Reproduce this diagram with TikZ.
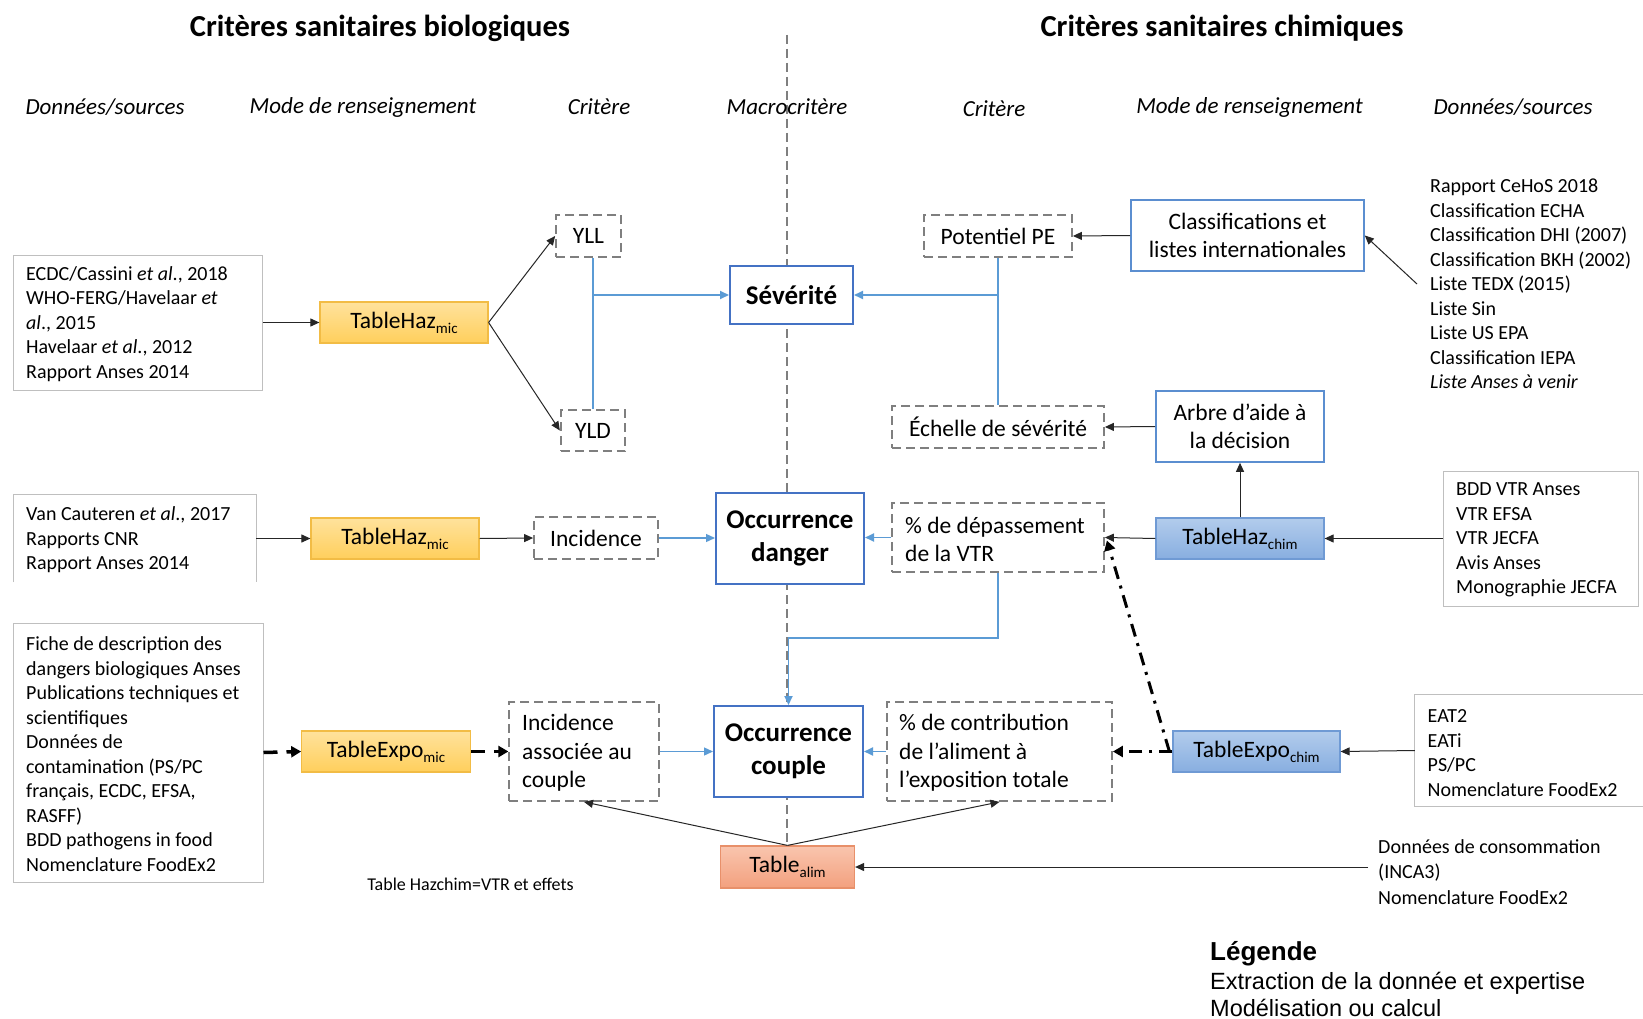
\documentclass[tikz,border=0pt]{standalone}
\usepackage{fontspec}
\setmainfont{Carlito}
\newfontfamily\arialf{Liberation Sans}
\usetikzlibrary{arrows.meta,calc}
\definecolor{bblue}{HTML}{4472C4}
\definecolor{wblue}{HTML}{5B8ED0}
\definecolor{lblue}{HTML}{5B9BD5}
\definecolor{dgray}{HTML}{7F7F7F}
\definecolor{sgray}{HTML}{BFBFBF}
\definecolor{orT}{HTML}{FFE29C}
\definecolor{orB}{HTML}{FFCF5C}
\definecolor{orD}{HTML}{F2BC45}
\definecolor{blT}{HTML}{B2CCEC}
\definecolor{blB}{HTML}{88AEE0}
\definecolor{blD}{HTML}{6F9AD4}
\definecolor{saT}{HTML}{F9C5AE}
\definecolor{saB}{HTML}{F3A07E}
\definecolor{saD}{HTML}{E8906A}
\newcommand\fBody{\fontsize{20}{24.5}\selectfont}
\newcommand\fBx{\fontsize{23.5}{28.5}\selectfont}
\newcommand\fBold{\bfseries\fontsize{27}{33}\selectfont}
\newcommand\fTab{\fontsize{23.5}{28}\selectfont}
\newcommand\fHead{\bfseries\fontsize{30.5}{36}\selectfont}
\newcommand\fCol{\itshape\fontsize{23}{28}\selectfont}
\newcommand\fNote{\fontsize{18}{21}\selectfont}
\newcommand\fLegT{\arialf\bfseries\fontsize{26}{30}\selectfont}
\newcommand\fLeg{\arialf\fontsize{23.5}{26}\selectfont}
\newcommand\mysub[1]{\raisebox{-5pt}{\fontsize{15}{15}\selectfont #1}}
\tikzset{
  txt/.style={inner sep=0pt, align=left, font=\fBody},
  srcbox/.style={draw=sgray, line width=1pt, fill=white, inner sep=0pt},
  dbox/.style={draw=dgray, line width=1.8pt, dash pattern=on 9pt off 5pt, fill=white, inner sep=0pt, font=\fBx},
  bbox/.style={draw=bblue, line width=2pt, fill=white, inner sep=0pt, font=\fBold, align=center},
  wbox/.style={draw=wblue, line width=1.6pt, fill=white, inner sep=0pt, font=\fBx, align=center},
  orng/.style={top color=orT, bottom color=orB, draw=orD, line width=1.2pt, inner sep=0pt, font=\fTab},
  bluf/.style={top color=blT, bottom color=blB, draw=blD, line width=1.2pt, inner sep=0pt, font=\fTab},
  salm/.style={top color=saT, bottom color=saB, draw=saD, line width=1.2pt, inner sep=0pt, font=\fTab},
  arr/.style={-{Triangle[length=9pt,width=8pt]}, line width=1pt, black!85},
  barr/.style={-{Triangle[length=9pt,width=8pt]}, line width=1.8pt, lblue},
  blin/.style={line width=1.8pt, lblue},
  thickdash/.style={line width=3.5pt, dash pattern=on 14pt off 9pt, -{Triangle[length=10pt,width=11pt]}},
  dashdotted/.style={line width=3pt, dash pattern=on 13pt off 7pt on 3pt off 7pt, -{Triangle[length=10pt,width=11pt]}},
  cline/.style={line width=2.2pt, dgray, dash pattern=on 9pt off 5pt}
}
\begin{document}
\begin{tikzpicture}[x=1pt,y=-1pt]
\useasboundingbox[fill=white] (0,0) rectangle (1643,1019);

% central dashed line
\coordinate (ctop) at (787,35);
\coordinate (cbot) at (787,846);
\draw[cline] (ctop) -- (cbot);

% headers
\node[inner sep=0pt, font=\fHead] (hbio) at (380,28) {Critères sanitaires biologiques};
\node[inner sep=0pt, font=\fHead] (hchi) at (1222,28) {Critères sanitaires chimiques};
\node[inner sep=0pt, font=\fCol] (c1) at (105,107) {Données/sources};
\node[inner sep=0pt, font=\fCol] (c2) at (363,107) {Mode de renseignement};
\node[inner sep=0pt, font=\fCol] (c3) at (599,107) {Critère};
\node[inner sep=0pt, font=\fCol] (c4) at (787,107) {Macrocritère};
\node[inner sep=0pt, font=\fCol] (c5) at (994,109) {Critère};
\node[inner sep=0pt, font=\fCol] (c6) at (1249.5,107) {Mode de renseignement};
\node[inner sep=0pt, font=\fCol] (c7) at (1513,107) {Données/sources};

% ---- row 1 (severity)
\node[srcbox, minimum width=249pt, minimum height=135pt] (s1) at (137.5,322.5) {};
\node[txt, anchor=west] (s1t) at (26,324) {ECDC/Cassini \textit{et al}., 2018\\WHO-FERG/Havelaar \textit{et}\\\textit{al}., 2015\\Havelaar \textit{et al}., 2012\\Rapport Anses 2014};
\node[orng, minimum width=168pt, minimum height=41pt] (h1) at (404,322.5) {TableHaz\mysub{mic}};
\node[dbox, minimum width=65pt, minimum height=42pt] (yll) at (588.5,236) {YLL};
\node[dbox, minimum width=64.5pt, minimum height=41pt] (yld) at (593,430.5) {YLD};
\node[bbox, minimum width=123pt, minimum height=58pt] (sev) at (791.5,295) {Sévérité};
\node[dbox, minimum width=148pt, minimum height=42pt] (pe) at (998,236) {Potentiel PE};
\node[wbox, minimum width=233pt, minimum height=71pt] (cl) at (1247.5,235.5) {Classifications et\\listes internationales};
\node[txt, anchor=west] (ce) at (1430,284) {Rapport CeHoS 2018\\Classification ECHA\\Classification DHI (2007)\\Classification BKH (2002)\\Liste TEDX (2015)\\Liste Sin\\Liste US EPA\\Classification IEPA\\\textit{Liste Anses à venir}};
\coordinate (cefrom) at (1417,284);
\node[dbox, minimum width=212pt, minimum height=42pt] (ech) at (998,427) {Échelle de sévérité};
\node[wbox, minimum width=168pt, minimum height=71pt] (ar) at (1240,426.5) {Arbre d’aide à\\la décision};

% ---- row 2 (occurrence danger)
\node[minimum width=242pt, minimum height=87pt, inner sep=0pt] (s2) at (135,538.5) {};
\draw[sgray, line width=1pt] (s2.south west) -- (s2.north west) -- (s2.north east) -- (s2.south east);
\node[txt, anchor=west] (s2t) at (26,540) {Van Cauteren \textit{et al}., 2017\\Rapports CNR\\Rapport Anses 2014};
\node[orng, minimum width=168pt, minimum height=41pt] (h2) at (395,538.5) {TableHaz\mysub{mic}};
\node[dbox, minimum width=124pt, minimum height=42pt] (inc) at (596,538) {Incidence};
\node[bbox, minimum width=148pt, minimum height=91pt] (od) at (790,538.5) {Occurrence\\danger};
\node[dbox, minimum width=212pt, minimum height=69pt] (dep) at (998,537.5) {};
\node[txt, font=\fBx, anchor=west] (dept) at (905,539.5) {\% de dépassement\\de la VTR};
\node[bluf, minimum width=168pt, minimum height=41pt] (hc) at (1240,538.5) {TableHaz\mysub{chim}};
\node[srcbox, minimum width=195pt, minimum height=135pt] (bdd) at (1540.5,538.5) {};
\node[txt, anchor=west] (bddt) at (1456,540) {BDD VTR Anses\\VTR EFSA\\VTR JECFA\\Avis Anses\\Monographie JECFA};

% ---- row 3 (occurrence couple)
\node[srcbox, minimum width=250pt, minimum height=259pt] (fi) at (138,752.5) {};
\node[txt, anchor=west] (fit) at (26,754) {Fiche de description des\\dangers biologiques Anses\\Publications techniques et\\scientifiques\\Données de\\contamination (PS/PC\\français, ECDC, EFSA,\\RASFF)\\BDD pathogens in food\\Nomenclature FoodEx2};
\node[orng, minimum width=168.5pt, minimum height=41pt] (em) at (386,751.5) {TableExpo\mysub{mic}};
\node[dbox, minimum width=149.5pt, minimum height=99pt] (ia) at (584,751.5) {};
\node[txt, font=\fBx, anchor=west] (iat) at (522,753) {Incidence\\associée au\\couple};
\node[bbox, minimum width=149pt, minimum height=91pt] (oc) at (788.5,751.5) {Occurrence\\couple};
\node[dbox, minimum width=225pt, minimum height=99pt] (ct) at (999.5,751.5) {};
\node[txt, font=\fBx, anchor=west] (ctt) at (899,753) {\% de contribution\\de l’aliment à\\l’exposition totale};
\node[bluf, minimum width=167pt, minimum height=41pt] (ec) at (1256.5,751.5) {TableExpo\mysub{chim}};
\node[minimum width=228pt, minimum height=111pt, inner sep=0pt] (eat) at (1529,750.5) {};
\draw[sgray, line width=1pt] (eat.north east) -- (eat.north west) -- (eat.south west) -- (eat.south east);
\node[txt, anchor=west] (eatt) at (1427.5,753) {EAT2\\EATi\\PS/PC\\Nomenclature FoodEx2};

% ---- table alim
\node[salm, minimum width=134pt, minimum height=42pt] (al) at (787.5,867) {Table\mysub{alim}};
\node[txt, anchor=west, font=\fontsize{20}{25.7}\selectfont] (co) at (1378,872) {Données de consommation\\(INCA3)\\Nomenclature FoodEx2};
\coordinate (cofrom) at (1368,867);
\node[inner sep=0pt, font=\fNote] (note) at (470.5,884) {Table Hazchim=VTR et effets};

% ---- legend
\node[inner sep=0pt, anchor=west, font=\fLegT] (lg) at (1210,954) {Légende};
\node[inner sep=0pt, anchor=west, font=\fLeg] (lg1) at (1210,983) {Extraction de la donnée et expertise};
\node[inner sep=0pt, anchor=west, font=\fLeg] (lg2) at (1210,1008) {Modélisation ou calcul};

% ---- connectors
\draw[arr] (s1.east) -- (h1.west);
\draw[arr] (h1.east) -- (yll.west);
\draw[arr] (h1.east) -- (yld.west);
\draw[blin] (yld.north) -- (yld.north |- yll.south);
\draw[barr] (yld.north |- sev.west) -- (sev.west);
\draw[blin] (pe.south) -- (ech.north);
\draw[barr] (pe.south |- sev.east) -- (sev.east);
\draw[arr] (cl.west) -- (pe.east);
\draw[arr] (cefrom) -- (cl.east);
\draw[arr] (ar.west) -- (ech.east);
\draw[arr] (hc.north) -- (ar.south);
\draw[arr] (hc.west) -- (dep.east);
\draw[arr] (bdd.west) -- (hc.east);
\draw[arr] (s2.east) -- (h2.west);
\draw[arr] (h2.east) -- (inc.west);
\draw[barr, line width=1.3pt] (inc.east) -- (inc.east -| od.west);
\draw[barr] (dep.west) -- (dep.west -| od.east);
\draw[barr] (dep.south) |- ($(oc.north)+(0,-67)$) -- (oc.north);
\draw[thickdash] (fi.east) -- (em.west);
\draw[thickdash] (em.east) -- (ia.west);
\draw[barr, line width=1.3pt] (ia.east) -- (oc.west);
\draw[barr] (ct.west) -- (oc.east);
\draw[dashdotted] (ec.west) -- (ct.east);
\draw[dashdotted] ($(ec.west)+(-3,0)$) -- ($(dep.east)+(2,3)$);
\draw[arr] (eat.west) -- (ec.east);
\draw[arr] (al.north) -- (ia.south);
\draw[arr] (al.north) -- (ct.south);
\draw[arr] (cofrom) -- (al.east);
\end{tikzpicture}
\end{document}
